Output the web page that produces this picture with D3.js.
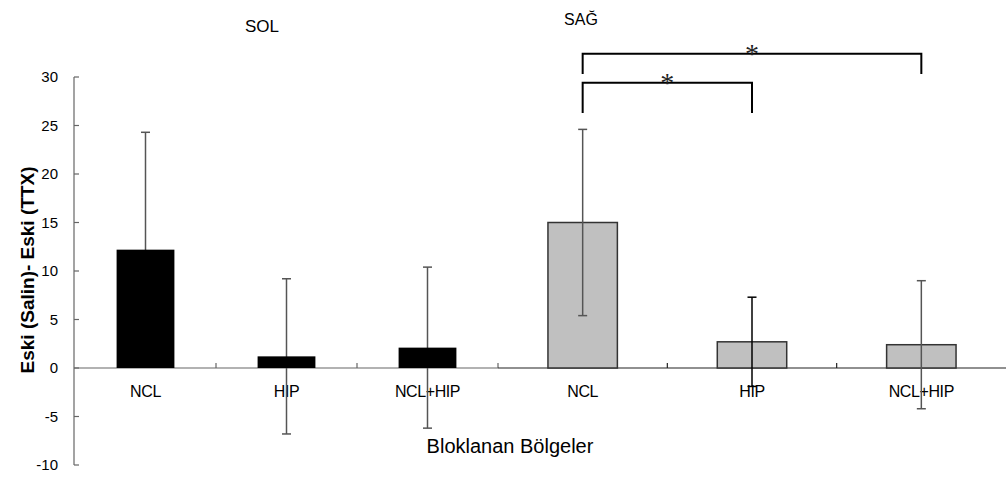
<!DOCTYPE html>
<html>
<head>
<meta charset="utf-8">
<script src="https://cdn.jsdelivr.net/npm/d3@7"></script>
<style>
  body { margin: 0; background: #fff; }
  svg { font-family: Arial, "Liberation Sans", sans-serif; }
</style>
</head>
<body>
<svg id="chart" width="1006" height="477"></svg>
<script>
// data
const categories = ['NCL', 'HIP', 'NCL+HIP'];
const solMeans = [12.2, 1.2, 2.1];
const solErrors = [12.1, 8.0, 8.3];
const sagMeans = [15.0, 2.7, 2.4];
const sagErrors = [9.6, 4.6, 6.6];
const yTicks = [30, 25, 20, 15, 10, 5, 0, -5, -10];
const groupTitles = ['SOL', 'SAĞ'];
// significance brackets on the right group (values in y units)
const brackets = [
  { from: 'NCL', to: 'NCL+HIP', top: 32.4, bottom: 30.3, label: '*' },
  { from: 'NCL', to: 'HIP', top: 29.4, bottom: 26.3, label: '*' }
];

const svg = d3.select('#chart');

const y = d3.scaleLinear().domain([-10, 30]).range([465, 77]);

const xSol = d3.scaleBand().domain(categories).range([75, 498])
  .paddingInner(0.59).paddingOuter(0.295);
const xSag = d3.scaleBand().domain(categories).range([498, 1006])
  .paddingInner(0.59).paddingOuter(0.295);

// y axis
const yAxis = svg.append('g').attr('stroke', '#666').attr('stroke-width', 1.2);
yAxis.append('line').attr('x1', 74).attr('x2', 74).attr('y1', y(30)).attr('y2', y(-10));
yAxis.selectAll('.yt').data(yTicks).join('line')
  .attr('x1', 74).attr('x2', 79).attr('y1', d => y(d)).attr('y2', d => y(d));
svg.selectAll('.ylab').data(yTicks).join('text')
  .attr('x', 58).attr('y', d => y(d)).attr('dy', '0.35em')
  .attr('text-anchor', 'end').attr('font-size', 15).attr('fill', '#000')
  .text(d => d);

svg.append('text')
  .attr('transform', 'translate(34,270) rotate(-90)')
  .attr('text-anchor', 'middle').attr('font-size', 19).attr('font-weight', 'bold')
  .text('Eski (Salin)- Eski (TTX)');

// x axis lines + category boundary ticks
function drawAxis(x, color, withEndTick) {
  const [r0, r1] = x.range();
  const step = x.step();
  const g = svg.append('g').attr('stroke', color).attr('stroke-width', 1.2);
  g.append('line').attr('x1', r0 === 75 ? 74 : r0).attr('x2', r1).attr('y1', y(0)).attr('y2', y(0));
  const ticks = d3.range(1, categories.length + (withEndTick ? 1 : 0)).map(i => r0 + i * step);
  g.selectAll('line.t').data(ticks).join('line')
    .attr('x1', d => d).attr('x2', d => d).attr('y1', y(0)).attr('y2', y(0) - 5);
}
drawAxis(xSol, '#666', true);
drawAxis(xSag, '#222', false);

// category labels
[xSol, xSag].forEach(x => {
  svg.append('g').selectAll('text').data(categories).join('text')
    .attr('x', d => x(d) + x.bandwidth() / 2).attr('y', 397)
    .attr('text-anchor', 'middle').attr('font-size', 16).attr('letter-spacing', -0.4)
    .text(d => d);
});

// error bars
function drawErrors(x, means, errs, colors) {
  const g = svg.append('g');
  means.forEach((m, i) => {
    const cx = x(categories[i]) + x.bandwidth() / 2;
    const lo = m - errs[i], hi = m + errs[i];
    const c = colors[i];
    g.append('line').attr('x1', cx).attr('x2', cx).attr('y1', y(hi)).attr('y2', y(lo))
      .attr('stroke', c).attr('stroke-width', 1.5);
    [hi, lo].forEach(v => {
      g.append('line').attr('x1', cx - 4.5).attr('x2', cx + 4.5).attr('y1', y(v)).attr('y2', y(v))
        .attr('stroke', c).attr('stroke-width', 1.5);
    });
  });
}

// left group: error bars sit behind the black bars
drawErrors(xSol, solMeans, solErrors, ['#555', '#555', '#555']);
svg.append('g').selectAll('rect').data(solMeans).join('rect')
  .attr('x', (d, i) => xSol(categories[i]))
  .attr('width', xSol.bandwidth())
  .attr('y', d => y(d)).attr('height', d => y(0) - y(d))
  .attr('fill', '#000');

// right group: error bars drawn over the grey bars
svg.append('g').selectAll('rect').data(sagMeans).join('rect')
  .attr('x', (d, i) => xSag(categories[i]))
  .attr('width', xSag.bandwidth())
  .attr('y', d => y(d)).attr('height', d => y(0) - y(d))
  .attr('fill', '#c0c0c0').attr('stroke', '#333').attr('stroke-width', 1.5);
drawErrors(xSag, sagMeans, sagErrors, ['#555', '#000', '#555']);

// brackets
const center = c => xSag(c) + xSag.bandwidth() / 2;
brackets.forEach(b => {
  const x1 = center(b.from), x2 = center(b.to);
  svg.append('path')
    .attr('d', `M${x1},${y(b.bottom)}V${y(b.top)}H${x2}V${y(b.bottom)}`)
    .attr('fill', 'none').attr('stroke', '#000').attr('stroke-width', 2);
  svg.append('text')
    .attr('x', (x1 + x2) / 2).attr('y', y(b.top) + 9)
    .attr('text-anchor', 'middle').attr('font-size', 28).attr('fill', '#222')
    .attr('font-family', '"Liberation Serif", "Times New Roman", serif')
    .text(b.label);
});

// group titles
svg.append('text').attr('x', 262).attr('y', 32)
  .attr('text-anchor', 'middle').attr('font-size', 17).text(groupTitles[0]);
svg.append('text').attr('x', 581).attr('y', 25)
  .attr('text-anchor', 'middle').attr('font-size', 16).text(groupTitles[1]);

// x title
svg.append('text').attr('x', 510).attr('y', 453)
  .attr('text-anchor', 'middle').attr('font-size', 20).text('Bloklanan Bölgeler');
</script>
</body>
</html>
